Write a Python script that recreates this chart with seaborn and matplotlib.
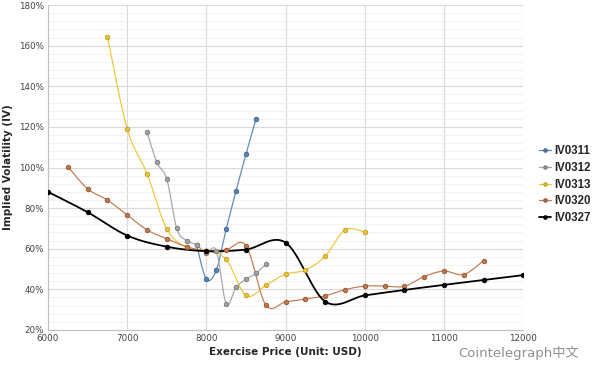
import numpy as np
import pandas as pd
import seaborn as sns
import matplotlib.pyplot as plt
from matplotlib.lines import Line2D
from matplotlib.ticker import MultipleLocator, FuncFormatter

# values (IV in %)
series_names = ["IV0311", "IV0312", "IV0313", "IV0320", "IV0327"]

x311 = [7875, 8000, 8125, 8250, 8375, 8500, 8625]
iv311 = [62, 45, 49.5, 69.7, 88.6, 106.6, 123.7]

x312 = [7250, 7375, 7500, 7625, 7750, 7875, 8000, 8125, 8250, 8375, 8500, 8625, 8750]
iv312 = [117.5, 102.5, 94.3, 70, 64, 62, 57.8, 59, 33, 41, 45, 47.8, 52.4]

x313 = [6750, 7000, 7250, 7500, 7750, 8000, 8250, 8500, 8750, 9000, 9250, 9500, 9750, 10000]
iv313 = [164.5, 119, 97, 69.7, 60.8, 59, 54.7, 37, 42, 47.5, 49.5, 56.4, 69.2, 68.2]

x320 = [6250, 6500, 6750, 7000, 7250, 7500, 7750, 8000, 8250, 8500, 8750, 9000,
        9250, 9500, 9750, 10000, 10250, 10500, 10750, 11000, 11250, 11500]
iv320 = [100.5, 89.5, 84, 76.6, 69.3, 64.9, 61, 59, 59.5, 61.5, 32.3, 33.8,
         35.2, 36.8, 39.8, 41.6, 41.6, 41.5, 46.3, 49, 47.3, 54.2]

x327 = [6000, 6500, 7000, 7500, 8000, 8500, 9000, 9500, 10000, 10500, 11000, 11500, 12000]
iv327 = [88, 78, 66.5, 61, 58.8, 59.6, 63, 34, 37, 39.7, 42.2, 44.6, 47]

colors = {"IV0311": "#5b87b5", "IV0312": "#a3a3a3", "IV0313": "#eec43a",
          "IV0320": "#c07a4c", "IV0327": "#000000"}
edges = {"IV0311": "#3f6690", "IV0312": "#7d7d7d", "IV0313": "#c9a020",
         "IV0320": "#98593a", "IV0327": "#000000"}


def smooth(xs, ys, n=30):
    # excel-like smoothed line (catmull-rom)
    p = np.column_stack([xs, ys]).astype(float)
    out = []
    for i in range(len(p) - 1):
        p0 = p[i - 1] if i > 0 else p[i]
        p1, p2 = p[i], p[i + 1]
        p3 = p[i + 2] if i + 2 < len(p) else p[i + 1]
        t = np.linspace(0, 1, n)[:, None]
        c = 0.5 * ((2 * p1) + (-p0 + p2) * t + (2 * p0 - 5 * p1 + 4 * p2 - p3) * t ** 2
                   + (-p0 + 3 * p1 - 3 * p2 + p3) * t ** 3)
        out.append(c)
    return np.vstack(out)


raw = {"IV0311": (x311, iv311), "IV0312": (x312, iv312), "IV0313": (x313, iv313),
       "IV0320": (x320, iv320), "IV0327": (x327, iv327)}

pts = pd.concat([pd.DataFrame({"price": x, "iv": y, "series": k}) for k, (x, y) in raw.items()])
curves = []
for k, (x, y) in raw.items():
    c = smooth(x, y)
    curves.append(pd.DataFrame({"price": c[:, 0], "iv": c[:, 1], "series": k}))
curves = pd.concat(curves)

sns.set_style("white")
plt.rcParams['font.family'] = ['DejaVu Sans', 'Noto Sans CJK SC']

fig = plt.figure(figsize=(6, 3.67), dpi=100)
ax = fig.add_axes([0.08, 0.101, 0.792, 0.885])

for k in series_names:
    sub = curves[curves['series'] == k]
    sns.lineplot(data=sub, x='price', y='iv', sort=False, estimator=None, color=colors[k],
                 lw=1.3 if k == "IV0327" else 0.85, ax=ax, legend=False, zorder=3)
    sp = pts[pts['series'] == k]
    sns.scatterplot(data=sp, x='price', y='iv', color=colors[k], edgecolor=edges[k],
                    s=10, linewidth=0.7, ax=ax, legend=False, zorder=4)

ax.set_xlim(6000, 12000)
ax.set_ylim(20, 180)
ax.xaxis.set_major_locator(MultipleLocator(1000))
ax.yaxis.set_major_locator(MultipleLocator(20))
ax.yaxis.set_minor_locator(MultipleLocator(4))
ax.yaxis.set_major_formatter(FuncFormatter(lambda v, _: f"{v:.0f}%"))

ax.grid(which='major', axis='both', color='#d9d9d9', lw=0.8)
ax.grid(which='minor', axis='y', color='#f0f0f0', lw=0.6)
ax.set_axisbelow(True)
for s in ['top', 'right']:
    ax.spines[s].set_visible(False)
for s in ['left', 'bottom']:
    ax.spines[s].set_color('#bfbfbf')
    ax.spines[s].set_linewidth(0.8)
ax.tick_params(axis='both', which='both', length=0, labelsize=6.3, colors='#404040', pad=3)

ax.set_xlabel("Exercise Price (Unit: USD)", fontsize=7.5, fontweight='bold', labelpad=3)
ax.set_ylabel("Implied Volatility (IV)", fontsize=7.5, fontweight='bold', labelpad=4)

handles = [Line2D([0], [0], color=colors[k], lw=1.3 if k == "IV0327" else 0.9,
                  marker='o', markersize=2.3, markerfacecolor=colors[k],
                  markeredgecolor=edges[k]) for k in series_names]
fig.legend(handles, series_names, loc='center left', bbox_to_anchor=(0.898, 0.497),
           frameon=False, handlelength=1.1, handletextpad=0.2, labelspacing=0.42,
           borderaxespad=0, borderpad=0,
           prop={'family': 'Liberation Sans', 'size': 8.3, 'weight': 'bold'})

fig.text(0.865, 0.038, "Cointelegraph中文", fontsize=9.5, color='#8f8f8f', ha='center', va='center')

fig.savefig("out.png", dpi=100, facecolor='white')
